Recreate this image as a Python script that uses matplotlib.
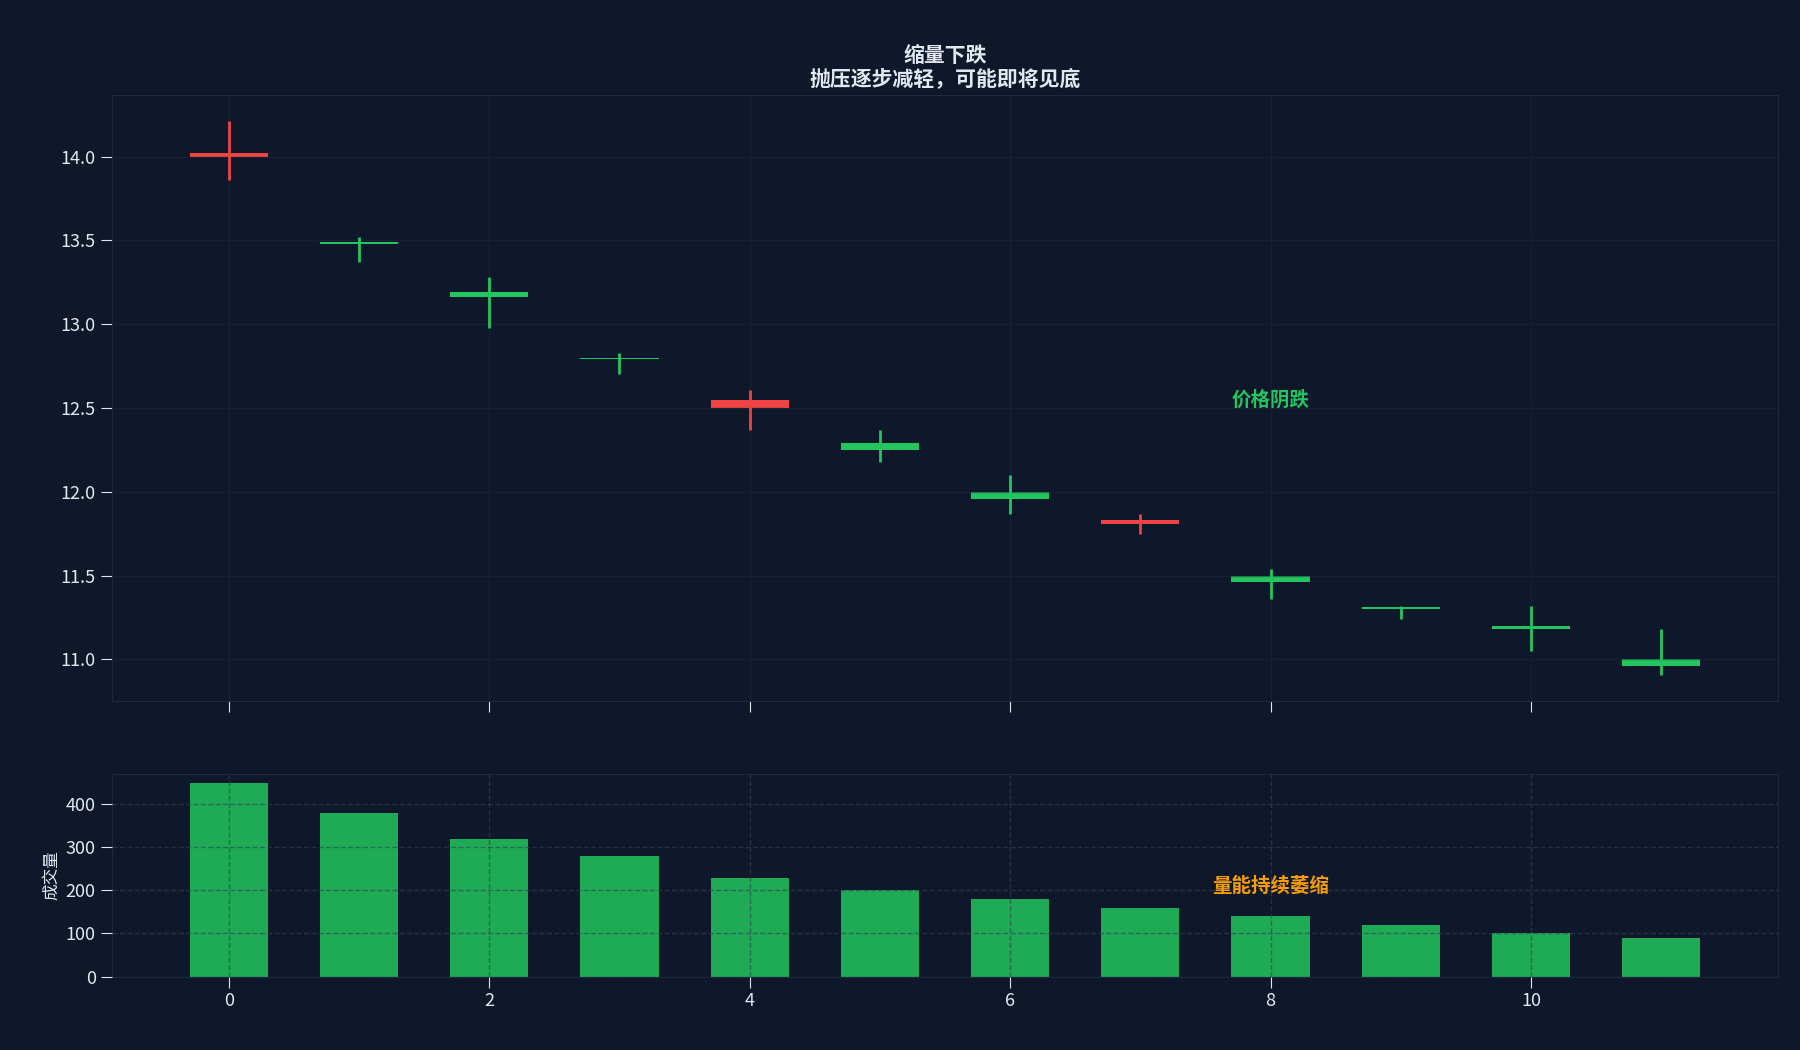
import matplotlib
matplotlib.use("Agg")
import matplotlib.pyplot as plt

plt.rcParams['font.family'] = ['Noto Sans CJK SC', 'DejaVu Sans']

x = list(range(12))
opens  = [14.00, 13.49, 13.19, 12.80, 12.50, 12.29, 12.00, 11.81, 11.50, 11.31, 11.20, 11.00]
closes = [14.02, 13.48, 13.16, 12.79, 12.55, 12.25, 11.96, 11.83, 11.46, 11.30, 11.18, 10.96]
highs  = [14.21, 13.52, 13.28, 12.83, 12.61, 12.37, 12.10, 11.87, 11.54, 11.32, 11.32, 11.18]
lows   = [13.86, 13.37, 12.98, 12.70, 12.37, 12.18, 11.87, 11.75, 11.36, 11.24, 11.05, 10.91]
volume = [450, 380, 320, 280, 230, 200, 180, 160, 140, 120, 100, 90]

BG = '#0f172a'
UP = '#ef4444'
DN = '#22c55e'
TXT = '#e2e8f0'

fig, (ax1, ax2) = plt.subplots(2, 1, figsize=(18, 10.5), dpi=100, sharex=True,
                               gridspec_kw={'height_ratios': [3, 1], 'hspace': 0.18})
fig.patch.set_facecolor(BG)
fig.subplots_adjust(left=0.062, right=0.988, top=0.91, bottom=0.07)

for ax in (ax1, ax2):
    ax.set_facecolor(BG)
    for s in ax.spines.values():
        s.set_color('#1e293b')
    ax.tick_params(colors=TXT, labelsize=13, length=8)

for i in x:
    c = UP if closes[i] >= opens[i] else DN
    ax1.vlines(i, lows[i], highs[i], color=c, linewidth=2)
    lo = min(opens[i], closes[i]); h = max(abs(closes[i] - opens[i]), 0.01)
    ax1.bar(i, h, bottom=lo, width=0.6, color=c)
ax1.set_ylim(10.75, 14.37)
ax1.set_yticks([11.0, 11.5, 12.0, 12.5, 13.0, 13.5, 14.0])
ax1.grid(True, color='#1e293b', alpha=0.5, linewidth=1)
ax1.tick_params(labelbottom=False)
ax1.text(8, 12.55, '价格阴跌', color=DN, fontsize=14, fontweight='bold', ha='center', va='center')
ax1.set_title('缩量下跌\n抛压逐步减轻，可能即将见底', color=TXT, fontsize=15, fontweight='bold')

ax2.bar(x, volume, width=0.6, color='#22c55e', alpha=0.85, zorder=2)
ax2.set_ylim(0, 470)
ax2.set_yticks([0, 100, 200, 300, 400])
ax2.grid(True, color='#334155', alpha=0.6, linestyle='--', linewidth=1, zorder=3)
ax2.set_axisbelow(False)
ax2.set_ylabel('成交量', color=TXT, fontsize=12)
ax2.text(8, 210, '量能持续萎缩', color='#f59e0b', fontsize=14, fontweight='bold', ha='center', va='center')
ax2.set_xlim(-0.9, 11.9)
ax2.set_xticks([0, 2, 4, 6, 8, 10])

fig.savefig('out.png', facecolor=BG)
